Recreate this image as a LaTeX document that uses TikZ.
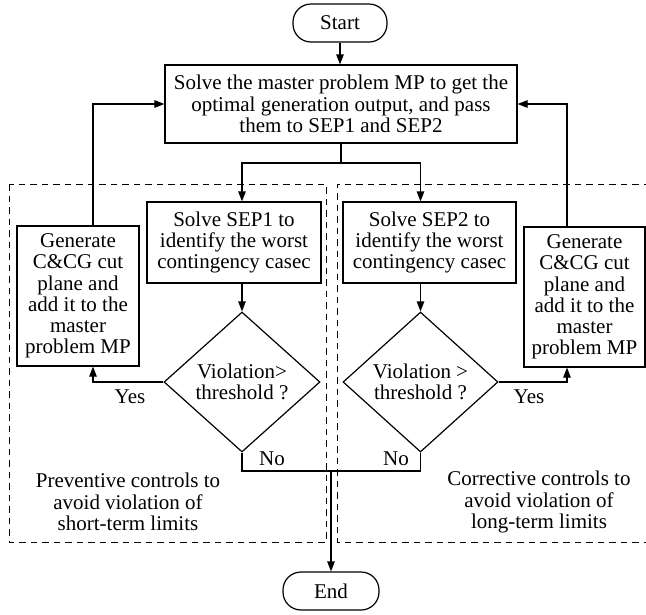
\documentclass[tikz,border=0pt]{standalone}
\usepackage{fontspec}
\setmainfont{Liberation Serif}
\usetikzlibrary{shapes.geometric,arrows.meta}
\begin{document}
\begin{tikzpicture}[x=1pt,y=-1pt, line width=1.2pt,
  every node/.style={font=\fontsize{21}{21.3}\selectfont, inner sep=0pt},
  box/.style={draw, rectangle, align=center},
  termbox/.style={draw, rectangle, rounded corners=18pt, align=center},
  dia/.style={draw, diamond, align=center},
  arr/.style={-{Triangle[length=10pt,width=7.5pt]}},
  dashbox/.style={draw, line width=1pt, dash pattern=on 6.5pt off 5pt}
]
\useasboundingbox (0,0) rectangle (646,614);

% dashed regions
\draw[dashbox] (9,184) rectangle (326,542);
\draw[dashbox] (650,184) -- (337,184) -- (337,542) -- (650,542);

% nodes
\node[termbox, minimum width=94pt, minimum height=38pt] (start) at (340,23) {Start};
\node[box, minimum width=352pt, minimum height=78pt] (mp) at (341,104)
  {Solve the master problem MP to get the\\optimal generation output, and pass\\them to SEP1 and SEP2};
\node[box, minimum width=174pt, minimum height=81pt] (sep1) at (234,242.5)
  {Solve SEP1 to\\identify the worst\\contingency casec};
\node[box, minimum width=173pt, minimum height=81pt] (sep2) at (429.5,242.5)
  {Solve SEP2 to\\identify the worst\\contingency casec};
\node[box, minimum width=122pt, minimum height=140pt] (gen1) at (78,296)
  {Generate\\C\&CG cut\\plane and\\add it to the\\master\\problem MP};
\node[box, minimum width=121pt, minimum height=140pt] (gen2) at (584.5,297)
  {Generate\\C\&CG cut\\plane and\\add it to the\\master\\problem MP};
\node[dia, minimum width=156pt, minimum height=140pt] (d1) at (242,382)
  {Violation>\\threshold ?};
\node[dia, minimum width=155pt, minimum height=140pt] (d2) at (420.5,382)
  {Violation >\\threshold ?};
\node[termbox, minimum width=96pt, minimum height=38pt] (end) at (331,591) {End};

% labels
\node (yes1) at (130,397) {Yes};
\node (yes2) at (529,397) {Yes};
\node (no1) at (272,459) {No};
\node (no2) at (396,459) {No};
\node[align=center] (prev) at (128,502) {Preventive controls to\\avoid violation of\\short-term limits};
\node[align=center] (corr) at (539,502) {Corrective controls to\\avoid violation of\\long-term limits};

% helper coordinates
\coordinate (split) at (341,163);
\coordinate (fl) at (93,104);
\coordinate (fr) at (567,104);
\coordinate (join) at (331,471);

% connectors
\draw[arr] (start.south) -- (start.south |- mp.north);
\draw (mp.south) -- (split);
\draw[arr] (split) -| (sep1.north -| d1.north);
\draw[arr] (split) -| (sep2.north -| d2.north);
\draw[arr] (sep1.south -| d1.north) -- (d1.north);
\draw[arr] (sep2.south -| d2.north) -- (d2.north);
\draw[arr] (d1.west) -| (gen1.south -| fl);
\draw[arr] (gen1.north -| fl) |- (mp.west);
\draw[arr] (d2.east) -| (gen2.south -| fr);
\draw[arr] (gen2.north -| fr) |- (mp.east);
\draw (d1.south) -- (d1.south |- join) -- (d2.south |- join) -- (d2.south);
\draw[arr] (join) -- (end.north);
\end{tikzpicture}
\end{document}
